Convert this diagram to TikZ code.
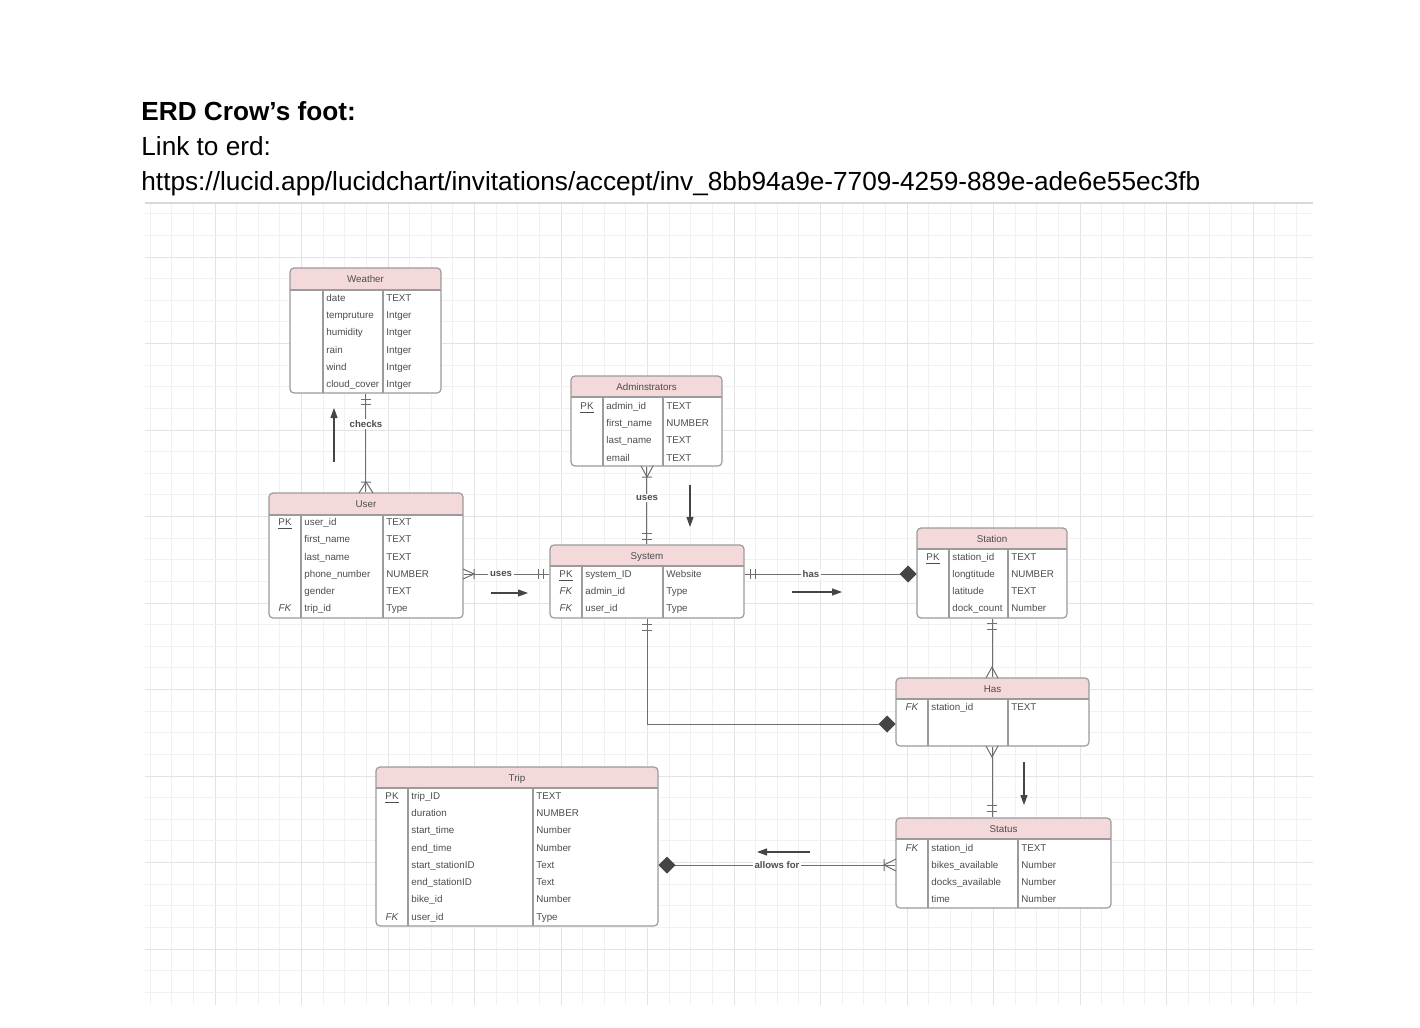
\documentclass[tikz,border=0pt]{standalone}
\usepackage{fontspec}
\setmainfont{Liberation Sans}
\usetikzlibrary{arrows.meta,fit}
\definecolor{gridminor}{HTML}{F1F1F1}
\definecolor{gridmajor}{HTML}{E3E3E3}
\definecolor{gridtop}{HTML}{D9D9D9}
\definecolor{headfill}{HTML}{F4D9DB}
\definecolor{tborder}{HTML}{9B9B9B}
\definecolor{ttext}{HTML}{4D4D4D}
\definecolor{lnk}{HTML}{6E6E6E}
\definecolor{arrc}{HTML}{454545}

% name, x1, y1, x2, y2, header bottom, col1, col2, title
\newcommand{\erdtab}[9]{%
  \coordinate (#1-nw) at (#2,#3);
  \coordinate (#1-se) at (#4,#5);
  \fill[white,rounded corners=2pt] (#2,#3) rectangle (#4,#5);
  \fill[headfill,rounded corners=2pt] (#2,#3) rectangle (#4,#6);
  \fill[headfill] (#2,{#3+8}) rectangle (#4,#6);
  \draw[tborder,line width=0.6pt] (#2,#6) -- (#4,#6);
  \draw[tborder,line width=0.6pt] (#7,#6) -- (#7,#5);
  \draw[tborder,line width=0.6pt] (#8,#6) -- (#8,#5);
  \node[fit=(#1-nw)(#1-se),inner sep=0pt,draw=tborder,line width=0.6pt,rounded corners=2pt] (#1) {};
  \node[hdr] (#1-title) at ({(#2+#4)/2},{(#3+#6)/2+3.5}) {#9};
  \def\erdkx{#2/2+#7/2}\def\erdfx{#7+3}\def\erdtx{#8+3}%
}
% name, y, key, field, type
\newcommand{\erdrow}[5]{%
  \node[keyc] (#1k) at ({\erdkx},{#2+4.5}) {#3};
  \node[cell] (#1f) at ({\erdfx},{#2+4.5}) {#4};
  \node[cell] (#1y) at ({\erdtx},{#2+4.5}) {#5};
}
\newcommand{\PKk}{\underline{PK}}
\newcommand{\FKk}{\textit{FK}}

\begin{document}
\begin{tikzpicture}[x=0.5pt,y=-0.5pt,
  conn/.style={draw=lnk,line width=0.5pt},
  cell/.style={font=\fontsize{4.9}{6}\selectfont,text=ttext,inner sep=0pt,anchor=base west},
  keyc/.style={cell,anchor=base},
  hdr/.style={font=\fontsize{4.9}{6}\selectfont,text=ttext,inner sep=0pt,anchor=base},
  lbl/.style={font=\bfseries\fontsize{4.8}{6}\selectfont,text=ttext,fill=white,inner sep=0.8pt},
  arr/.style={draw=arrc,line width=0.55pt,-{Triangle[length=5pt,width=3.5pt]}},
  dia/.style={fill=arrc},
  ttl/.style={font=\fontsize{13.1}{15}\selectfont,inner sep=0pt,anchor=base west}]
\useasboundingbox (0,0) rectangle (1420,1028);
\fill[white] (0,0) rectangle (1420,1028);

% grid
\foreach \i in {0,...,53}{
  \pgfmathtruncatemacro\gm{mod(\i,4)}
  \ifnum\gm=3 \def\gcol{gridmajor}\else\def\gcol{gridminor}\fi
  \draw[\gcol,line width=0.5pt] ({150.125+21.625*\i},203) -- ({150.125+21.625*\i},1005);
}
\foreach \j in {0,...,36}{
  \pgfmathtruncatemacro\gm{mod(\j,4)}
  \ifnum\gm=2 \def\gcol{gridmajor}\else\def\gcol{gridminor}\fi
  \draw[\gcol,line width=0.5pt] (145,{213.75+21.625*\j}) -- (1313,{213.75+21.625*\j});
}
\draw[gridtop,line width=0.6pt] (145,203) -- (1313,203);

% titles
\node[ttl,font=\bfseries\fontsize{13.1}{15}\selectfont] (t1) at (141,120) {ERD Crow’s foot:};
\node[ttl] (t2) at (141,155) {Link to erd:};
\node[ttl] (t3) at (141,190) {https://lucid.app/lucidchart/invitations/accept/inv\_8bb94a9e-7709-4259-889e-ade6e55ec3fb};

% tables
\erdtab{weather}{290}{268}{441}{393}{290}{323}{383}{Weather}
\erdrow{w1}{297}{}{date}{TEXT}
\erdrow{w2}{314}{}{tempruture}{Intger}
\erdrow{w3}{331}{}{humidity}{Intger}
\erdrow{w4}{349}{}{rain}{Intger}
\erdrow{w5}{366}{}{wind}{Intger}
\erdrow{w6}{383}{}{cloud\_cover}{Intger}

\erdtab{admin}{571}{376}{722}{466}{397}{603}{663}{Adminstrators}
\erdrow{a1}{405}{\PKk}{admin\_id}{TEXT}
\erdrow{a2}{422}{}{first\_name}{NUMBER}
\erdrow{a3}{439}{}{last\_name}{TEXT}
\erdrow{a4}{457}{}{email}{TEXT}

\erdtab{user}{269}{493}{463}{618}{515}{301}{383}{User}
\erdrow{u1}{521}{\PKk}{user\_id}{TEXT}
\erdrow{u2}{538}{}{first\_name}{TEXT}
\erdrow{u3}{556}{}{last\_name}{TEXT}
\erdrow{u4}{573}{}{phone\_number}{NUMBER}
\erdrow{u5}{590}{}{gender}{TEXT}
\erdrow{u6}{607}{\FKk}{trip\_id}{Type}

\erdtab{system}{550}{545}{744}{618}{566}{582}{663}{System}
\erdrow{s1}{573}{\PKk}{system\_ID}{Website}
\erdrow{s2}{590}{\FKk}{admin\_id}{Type}
\erdrow{s3}{607}{\FKk}{user\_id}{Type}

\erdtab{station}{917}{528}{1067}{618}{549}{949}{1008}{Station}
\erdrow{st1}{556}{\PKk}{station\_id}{TEXT}
\erdrow{st2}{573}{}{longtitude}{NUMBER}
\erdrow{st3}{590}{}{latitude}{TEXT}
\erdrow{st4}{607}{}{dock\_count}{Number}

\erdtab{has}{896}{678}{1089}{746}{699}{928}{1008}{Has}
\erdrow{h1}{706}{\FKk}{station\_id}{TEXT}

\erdtab{trip}{376}{767}{658}{926}{788}{408}{533}{Trip}
\erdrow{tr1}{795}{\PKk}{trip\_ID}{TEXT}
\erdrow{tr2}{812}{}{duration}{NUMBER}
\erdrow{tr3}{829}{}{start\_time}{Number}
\erdrow{tr4}{847}{}{end\_time}{Number}
\erdrow{tr5}{864}{}{start\_stationID}{Text}
\erdrow{tr6}{881}{}{end\_stationID}{Text}
\erdrow{tr7}{898}{}{bike\_id}{Number}
\erdrow{tr8}{916}{\FKk}{user\_id}{Type}

\erdtab{status}{896}{818}{1111}{908}{839}{928}{1018}{Status}
\erdrow{ss1}{847}{\FKk}{station\_id}{TEXT}
\erdrow{ss2}{864}{}{bikes\_available}{Number}
\erdrow{ss3}{881}{}{docks\_available}{Number}
\erdrow{ss4}{898}{}{time}{Number}

% connectors
\coordinate (usy) at (0,574);
\coordinate (hy) at (0,724);
\coordinate (ty) at (0,865);
\draw[conn] (weather.south) -- (weather.south |- user.north);
\draw[conn] (admin.south) -- (admin.south |- system.north);
\draw[conn] (user.east |- usy) -- (system.west |- usy);
\draw[conn] (system.east |- usy) -- (station.west |- usy);
\draw[conn] (station.south) -- (station.south |- has.north);
\draw[conn] (system.south) |- (has.west |- hy);
\draw[conn] (station.south |- has.south) -- (station.south |- status.north);
\draw[conn] (trip.east |- ty) -- (status.west |- ty);

% notation ends
% Weather - User
\draw[conn] (361,399) -- (371,399) (361,404) -- (371,404);
\draw[conn] (359,493) -- (366,482) -- (373,493) (361,482) -- (371,482);
% Admin - System
\draw[conn] (641,466) -- (647,477) -- (653,466) (642,477) -- (652,477);
\draw[conn] (642,533) -- (652,533) (642,539) -- (652,539);
% User - System
\draw[conn] (463,569) -- (474,574) -- (463,579) (474,569) -- (474,579);
\draw[conn] (538,569) -- (538,579) (543,569) -- (543,579);
% System - Station
\draw[conn] (750,569) -- (750,579) (755,569) -- (755,579);
\fill[dia] (899.5,574) -- (908,565.5) -- (916.5,574) -- (908,582.5) -- cycle;
% Station - Has
\draw[conn] (987,623) -- (997,623) (987,629) -- (997,629);
\draw[conn] (986,678) -- (992,667) -- (998,678);
% System - Has
\draw[conn] (642,624) -- (652,624) (642,630) -- (652,630);
\fill[dia] (878.5,724) -- (887,715.5) -- (895.5,724) -- (887,732.5) -- cycle;
% Has - Status
\draw[conn] (986,746) -- (992,757) -- (998,746);
\draw[conn] (987,805) -- (997,805) (987,811) -- (997,811);
% Trip - Status
\fill[dia] (658.5,865) -- (667,856.5) -- (675.5,865) -- (667,873.5) -- cycle;
\draw[conn] (896,859) -- (884,865) -- (896,871) (884,859) -- (884,871);

% labels
\node[lbl] (lchecks) at (366,424) {checks};
\node[lbl] (luses1) at (647,498) {uses};
\node[lbl] (luses2) at (501,574) {uses};
\node[lbl] (lhas) at (811,574) {has};
\node[lbl] (lallows) at (777,865) {allows for};

% direction arrows
\coordinate (a1s) at (334,462); \coordinate (a1e) at (334,408);
\coordinate (a2s) at (690,485); \coordinate (a2e) at (690,527);
\coordinate (a3s) at (491,593); \coordinate (a3e) at (528,593);
\coordinate (a4s) at (792,592); \coordinate (a4e) at (842,592);
\coordinate (a5s) at (1024,762); \coordinate (a5e) at (1024,805);
\coordinate (a6s) at (810,852); \coordinate (a6e) at (757,852);
\draw[arr] (a1s) -- (a1e);
\draw[arr] (a2s) -- (a2e);
\draw[arr] (a3s) -- (a3e);
\draw[arr] (a4s) -- (a4e);
\draw[arr] (a5s) -- (a5e);
\draw[arr] (a6s) -- (a6e);
\end{tikzpicture}
\end{document}
